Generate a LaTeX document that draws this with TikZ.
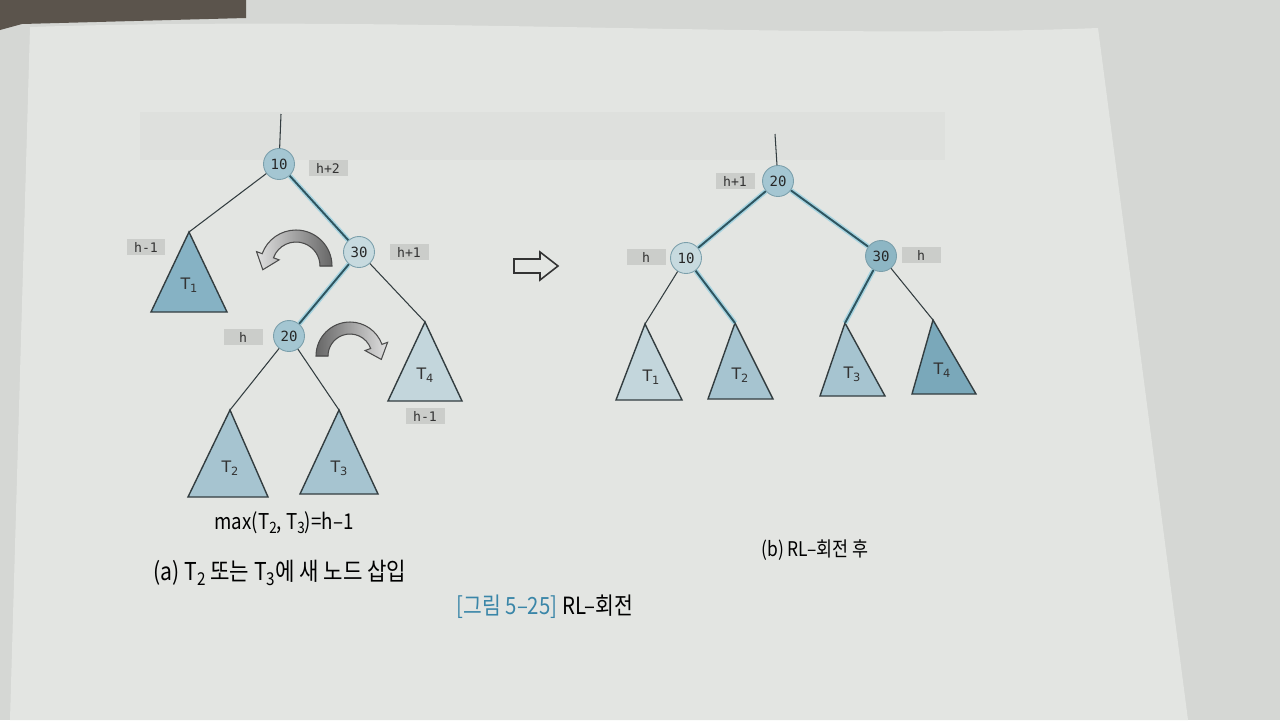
\documentclass[tikz,border=0pt]{standalone}
\usepackage{fontspec}
\setmainfont{Noto Sans CJK KR}
\newfontfamily\numfont{DejaVu Sans Mono}
\newfontfamily\trifont{DejaVu Sans}
\newfontfamily\capfont[FakeStretch=0.86]{Noto Sans CJK KR}
\usetikzlibrary{calc}

\definecolor{bg}{HTML}{D5D7D4}
\definecolor{paper}{HTML}{E3E5E2}
\definecolor{panel}{HTML}{DEE0DD}
\definecolor{darktab}{HTML}{5B544C}
\definecolor{keyline}{HTML}{7B9FAB}
\definecolor{boxgray}{HTML}{CBCDCA}
\definecolor{linkdark}{HTML}{333D40}
\definecolor{linkteal}{HTML}{2E5560}
\definecolor{glow}{HTML}{A8D4E0}
\definecolor{keymid}{HTML}{A4C6D2}
\definecolor{keylight}{HTML}{C7DADF}
\definecolor{keydark}{HTML}{8DB6C4}
\definecolor{treedark}{HTML}{86B2C4}
\definecolor{treemid}{HTML}{A6C4D0}
\definecolor{treelight}{HTML}{C3D6DC}
\definecolor{treedeep}{HTML}{7AA8BA}
\definecolor{capblue}{HTML}{3A86A8}

\newcommand{\tsub}[2]{#1\raisebox{-0.35ex}{\scalebox{0.72}{#2}}}

\begin{document}
\begin{tikzpicture}[x=0.02cm,y=-0.02cm]
		\tikzstyle {key} = [circle, draw=keyline, line width=0.5pt, minimum size=0.62cm, inner sep=0pt, font=\numfont\fontsize{8}{9}\selectfont, text=black!85]
		\tikzstyle {height box} = [fill=boxgray, inner sep=0pt, minimum width=0.78cm, minimum height=0.32cm, font=\numfont\fontsize{7.5}{9}\selectfont, text=black!80]
		\tikzstyle {thin link} = [line width=0.6pt, draw=linkdark]
		\tikzstyle {thick link} = [line width=1.1pt, draw=linkteal, preaction={draw=glow, line width=2.8pt}]
		\tikzstyle {subtree} = [draw=linkdark, line width=0.8pt, line join=miter]
		\tikzstyle {tri label} = [font=\trifont\fontsize{9}{10}\selectfont, text=black!80]
		\tikzstyle {turn} = [draw=black!70, line width=0.6pt]

		% page
		\fill[bg] (0,0) rectangle (1280,720);
		\fill[paper] (30,27) .. controls (400,15) and (800,40) .. (1098,28) -- (1188,720) -- (10,720) -- cycle;
		\fill[darktab] (0,0) -- (246,0) -- (246,18) -- (22,24) -- (0,30) -- cycle;
		\fill[panel] (140,112) rectangle (945,160);

		% (a) before the rotation
		\coordinate (top a) at (281,114);
		\node[key, fill=keymid] (a10) at (279,164) {10};
		\node[key, fill=keylight] (a30) at (359,252) {30};
		\node[key, fill=keymid] (a20) at (289,336) {20};
		\node[height box] at (328,168) {h+2};
		\node[height box] at (409,252) {h+1};
		\node[height box] at (243,337) {h};
		\node[height box] at (146,247) {h-1};
		\node[height box] at (425,416) {h-1};

		\coordinate (a t1) at (189,232);
		\coordinate (a t4) at (425,322);
		\coordinate (a t2) at (230,410);
		\coordinate (a t3) at (339,410);
		\draw[subtree, fill=treedark] (a t1) -- ++(-38,80) -- ++(76,0) -- cycle;
		\draw[subtree, fill=treelight] (a t4) -- ++(-37,79) -- ++(74,0) -- cycle;
		\draw[subtree, fill=treemid] (a t2) -- ++(-42,87) -- ++(80,0) -- cycle;
		\draw[subtree, fill=treemid] (a t3) -- ++(-39,84) -- ++(78,0) -- cycle;
		\node[tri label] at ($(a t1)+(0,53)$) {\tsub{T}{1}};
		\node[tri label] at ($(a t4)+(0,53)$) {\tsub{T}{4}};
		\node[tri label] at ($(a t2)+(0,58)$) {\tsub{T}{2}};
		\node[tri label] at ($(a t3)+(0,58)$) {\tsub{T}{3}};

		\draw[thin link] (top a) -- (a10);
		\draw[thin link] (a10) -- (a t1);
		\draw[thick link] (a10) -- (a30);
		\draw[thick link] (a30) -- (a20);
		\draw[thin link] (a30) -- (a t4);
		\draw[thin link] (a20) -- (a t2);
		\draw[thin link] (a20) -- (a t3);

		% rotation arrows
		\coordinate (c1) at (296,266);
		\filldraw[turn, left color=black!12, right color=black!60]
			($(c1)+(0:36)$) arc[start angle=0, end angle=-160, radius=36]
			-- ($(c1)+(-160:42)$) -- ($(c1)+(-160:30)+(-5,14)$) -- ($(c1)+(-160:18)$)
			-- ($(c1)+(-160:24)$) arc[start angle=-160, end angle=0, radius=24] -- cycle;
		\coordinate (c2) at (350,356);
		\filldraw[turn, left color=black!60, right color=black!12]
			($(c2)+(180:34)$) arc[start angle=-180, end angle=-20, radius=34]
			-- ($(c2)+(-20:40)$) -- ($(c2)+(-20:28)+(5,13)$) -- ($(c2)+(-20:16)$)
			-- ($(c2)+(-20:22)$) arc[start angle=-20, end angle=-180, radius=22] -- cycle;

		\node[font=\capfont\fontsize{12.4}{14}\selectfont] (max) at (284,523) {max(\tsub{T}{2}, \tsub{T}{3})=h–1};
		\node[font=\capfont\fontsize{14}{16}\selectfont] (cap a) at (280,573) {(a) \tsub{T}{2} 또는 \tsub{T}{3}에 새 노드 삽입};

		% hollow arrow
		\draw[line width=0.9pt, draw=black!80, fill=paper, line join=miter]
			(514,259) -- (540,259) -- (540,252) -- (558,266) -- (540,280) -- (540,273) -- (514,273) -- cycle;

		% (b) after the rotation
		\coordinate (top b) at (775,134);
		\node[key, fill=keymid] (b20) at (778,181) {20};
		\node[key, fill=keylight] (b10) at (686,258) {10};
		\node[key, fill=keydark] (b30) at (881,256) {30};
		\node[height box] at (735,181) {h+1};
		\node[height box] at (646,257) {h};
		\node[height box] at (921,255) {h};

		\coordinate (b t1) at (645,324);
		\coordinate (b t2) at (735,323);
		\coordinate (b t3) at (845,323);
		\coordinate (b t4) at (933,320);
		\draw[subtree, fill=treelight] (b t1) -- ++(-29,76) -- ++(66,0) -- cycle;
		\draw[subtree, fill=treemid] (b t2) -- ++(-27,76) -- ++(65,0) -- cycle;
		\draw[subtree, fill=treemid] (b t3) -- ++(-25,73) -- ++(65,0) -- cycle;
		\draw[subtree, fill=treedeep] (b t4) -- ++(-21,74) -- ++(64,0) -- cycle;
		\node[tri label] at ($(b t1)+(6,53)$) {\tsub{T}{1}};
		\node[tri label] at ($(b t2)+(5,52)$) {\tsub{T}{2}};
		\node[tri label] at ($(b t3)+(7,51)$) {\tsub{T}{3}};
		\node[tri label] at ($(b t4)+(9,50)$) {\tsub{T}{4}};

		\draw[thin link] (top b) -- (b20);
		\draw[thick link] (b20) -- (b10);
		\draw[thick link] (b20) -- (b30);
		\draw[thin link] (b10) -- (b t1);
		\draw[thick link] (b10) -- (b t2);
		\draw[thick link] (b30) -- (b t3);
		\draw[thin link] (b30) -- (b t4);

		\node[font=\capfont\fontsize{11.5}{13}\selectfont] (cap b) at (815,550) {(b) RL–회전 후};

		% figure caption
		\node[font=\capfont\fontsize{13.5}{15}\selectfont] (fig cap) at (545,607) {\textcolor{capblue}{[그림 5–25]} RL–회전};
\end{tikzpicture}
\end{document}
